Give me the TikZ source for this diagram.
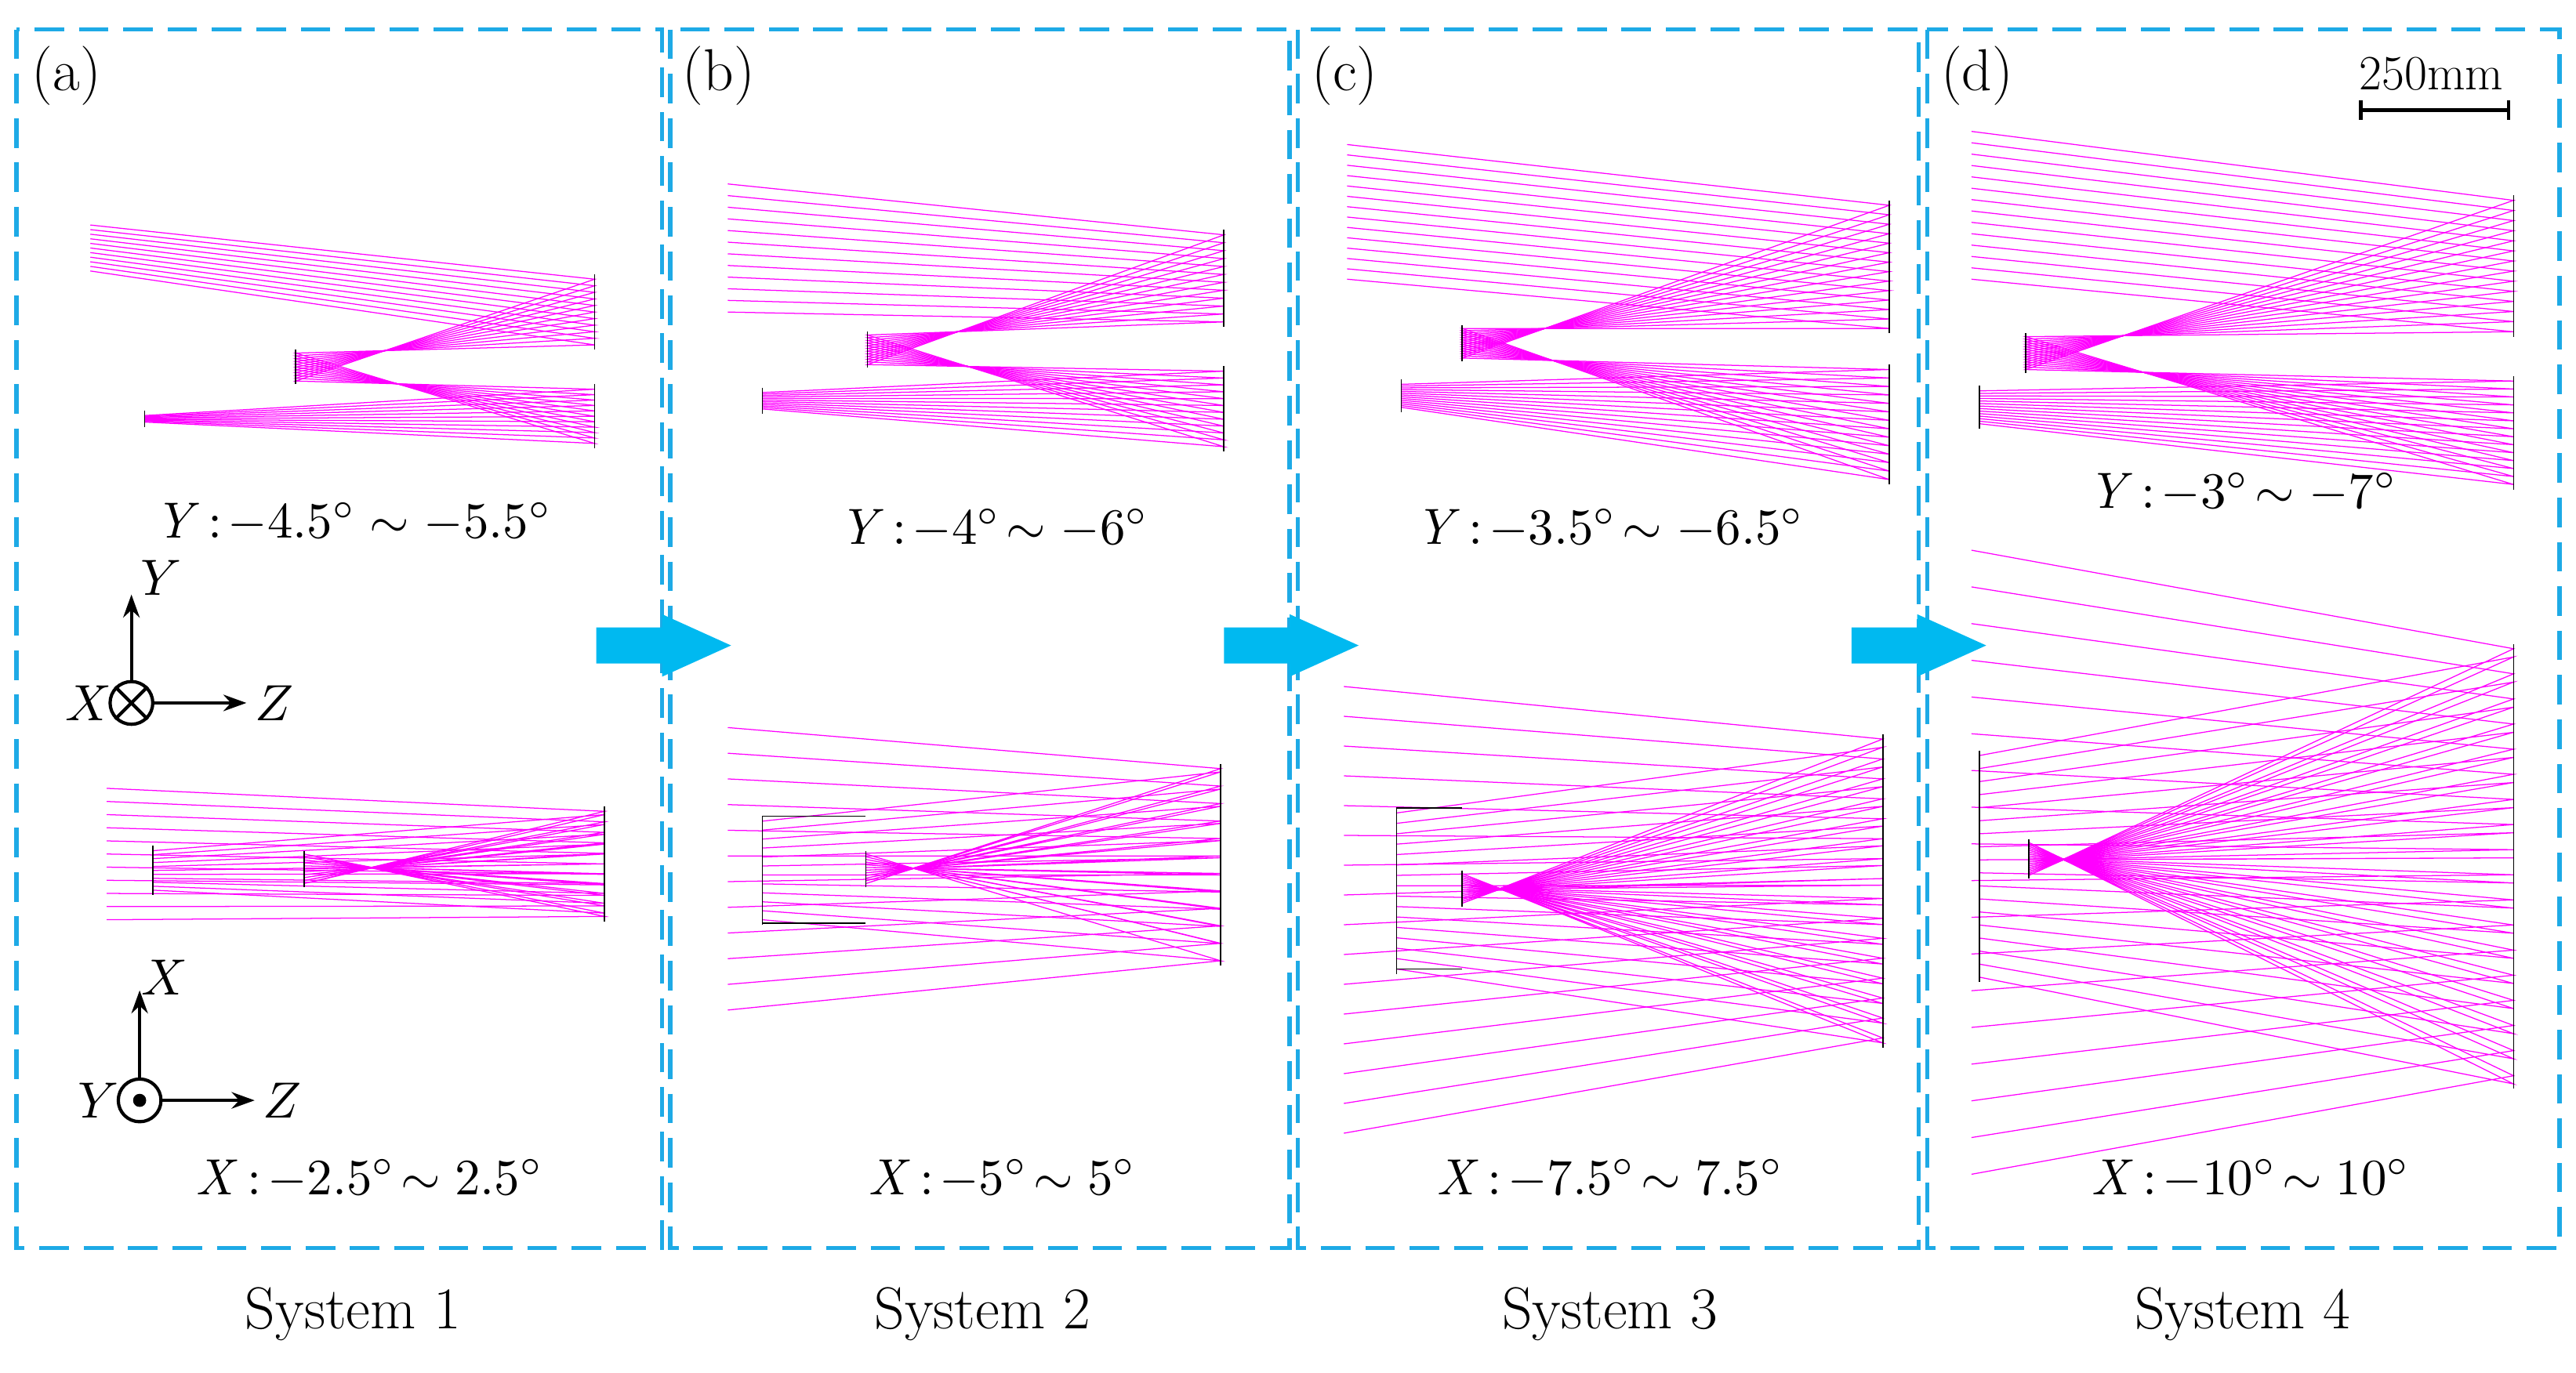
\documentclass[tikz,border=0pt]{standalone}
\usepackage{graphicx}
\usetikzlibrary{arrows.meta}
\newcommand\mylabm[1]{\scalebox{3.1}{$#1$}}
\begin{document}
\begin{tikzpicture}[x=1pt,y=-1pt,
 panel/.style={draw={rgb,255:red,30;green,170;blue,230},line width=2.5pt,dash pattern=on 18pt off 9pt},
 ray/.style={draw={rgb,255:red,255;green,0;blue,255},line width=0.6pt},
 optic/.style={draw=black,line width=0.8pt},
 bigarrow/.style={fill={rgb,255:red,0;green,185;blue,240},draw=none},
 lab/.style={font=\fontsize{36}{40}\selectfont},
 captext/.style={font=\fontsize{36}{40}\selectfont},
 axis/.style={-{Stealth[length=14pt,width=10pt]},line width=2pt}]
\useasboundingbox (0,0) rectangle (1568,836);
% panels
\foreach \a/\b/\nm in {10/403/pa,408/785/pb,790/1168/pc,1173/1558/pd}{
 \draw[panel] (\a,18) rectangle (\b,760);
}
\node[lab,anchor=west] (la) at (16,46) {(a)};
\node[lab,anchor=west] (lb) at (412,46) {(b)};
\node[lab,anchor=west] (lc) at (795,46) {(c)};
\node[lab,anchor=west] (ld) at (1178,46) {(d)};
\node[captext] (s1) at (215,800) {System 1};
\node[captext] (s2) at (598,800) {System 2};
\node[captext] (s3) at (980,800) {System 3};
\node[captext] (s4) at (1365,800) {System 4};
% block arrows
\foreach \x in {363,745,1127}{
 \fill[bigarrow] (\x,382) -- (\x+40,382) -- (\x+40,374) -- (\x+82,393) -- (\x+40,412) -- (\x+40,404) -- (\x,404) -- cycle;
}
% rays
\foreach \n/\xL/\ya/\yb/\xM/\yc/\yd/\xS/\ye/\yf/\yg/\yh/\xI/\yi/\yj in {
 11/55/137/165/362/170/210/180/215/232/237/270/88/253/257,
 11/65/480/560/368/494/558/185/520/538/496/556/93/518/542,
 12/443/112/190/745/143/196/528/204/222/226/272/464/239/249,
 12/443/443/615/743/468/585/527/520/538/470/585/464/500/560,
 14/820/88/170/1150/125/200/890/200/218/225/292/853/234/248,
 16/818/418/690/1146/450/632/890/532/550/455/635/850/495/590,
 14/1200/80/170/1530/122/202/1233/205/225/232/295/1205/238/258,
 18/1200/335/715/1530/395/655/1235/513/533/400/660/1205/460/595}{
 \pgfmathtruncatemacro\m{\n-1}
 \foreach \i in {0,...,\m}{
  \pgfmathsetmacro\t{\i/\m}
  \draw[ray] (\xL,{\ya+\t*(\yb-\ya)}) -- (\xM,{\yc+\t*(\yd-\yc)}) -- (\xS,{\yf-\t*(\yf-\ye)}) -- (\xM,{\yg+\t*(\yh-\yg)}) -- (\xI,{\yi+\t*(\yj-\yi)});
 }
 \draw[optic] (\xM,\yc-3) -- (\xM,\yd+3);
 \draw[optic] (\xM,\yg-3) -- (\xM,\yh+3);
 \draw[optic] (\xS,\ye-2) -- (\xS,\yf+2);
 \draw[optic] (\xI,\yi-3) -- (\xI,\yj+3);
}
% X-view housings
\draw[optic] (93,515) -- (93,545);
\draw[optic] (464,497) -- (464,562) (464,497) -- (527,497) (464,562) -- (527,562);
\draw[optic] (850,492) -- (850,590) (850,492) -- (890,492) (850,590) -- (890,590);
\draw[optic] (1205,462) -- (1205,593);
% field labels
\node (ya) at (215,318) {\mylabm{\mathit{Y}\!:\!-4.5^\circ \sim -5.5^\circ}};
\node (yb) at (605,322) {\mylabm{\mathit{Y}\!:\!-4^\circ\!\sim -6^\circ}};
\node (yc) at (980,322) {\mylabm{\mathit{Y}\!:\!-3.5^\circ\!\sim -6.5^\circ}};
\node (yd) at (1365,300) {\mylabm{\mathit{Y}\!:\!-3^\circ\!\sim -7^\circ}};
\node (xa) at (225,718) {\mylabm{\mathit{X}\!:\!-2.5^\circ\!\sim 2.5^\circ}};
\node (xb) at (610,718) {\mylabm{\mathit{X}\!:\!-5^\circ\!\sim 5^\circ}};
\node (xc) at (980,718) {\mylabm{\mathit{X}\!:\!-7.5^\circ\!\sim 7.5^\circ}};
\node (xd) at (1370,718) {\mylabm{\mathit{X}\!:\!-10^\circ\!\sim 10^\circ}};
% axes 1
\node[circle,draw,line width=2pt,minimum size=26pt,inner sep=0] (c1) at (80,428) {};
\draw[line width=2pt] (c1.north west) -- (c1.south east) (c1.north east) -- (c1.south west);
\coordinate (c1u) at (80,362); \coordinate (c1r) at (150,428);
\draw[axis] (c1.north) -- (c1u);
\draw[axis] (c1.east) -- (c1r);
\node (ax1y) at (98,352) {\mylabm{Y}};
\node (ax1x) at (54,428) {\mylabm{X}};
\node (ax1z) at (167,428) {\mylabm{Z}};
% axes 2
\node[circle,draw,line width=2pt,minimum size=26pt,inner sep=0] (c2) at (85,670) {};
\fill (c2) circle (4pt);
\coordinate (c2u) at (85,603); \coordinate (c2r) at (155,670);
\draw[axis] (c2.north) -- (c2u);
\draw[axis] (c2.east) -- (c2r);
\node (ax2x) at (100,595) {\mylabm{X}};
\node (ax2y) at (60,670) {\mylabm{Y}};
\node (ax2z) at (172,670) {\mylabm{Z}};
% scale bar
\node[lab,font=\fontsize{30}{34}\selectfont] (sb) at (1480,45) {250mm};
\coordinate (sbl) at (1437,67); \coordinate (sbr) at (1527,67);
\draw[line width=2pt] (sbl) -- (sbr) (1437,61) -- (1437,73) (1527,61) -- (1527,73);
\end{tikzpicture}
\end{document}
